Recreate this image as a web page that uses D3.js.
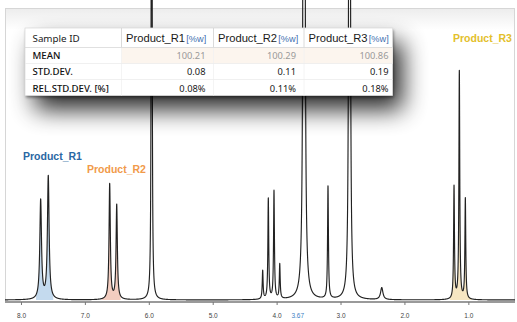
<!DOCTYPE html>
<html>
<head>
<meta charset="utf-8">
<script src="https://cdn.jsdelivr.net/npm/d3@7"></script>
<style>
  html, body { margin: 0; padding: 0; background: #fff; }
  svg { display: block; }
</style>
</head>
<body>
<svg id="chart" width="517" height="322"></svg>
<script>
// ---------------- DATA ----------------
// NMR peak list: chemical shift (ppm), intensity, half-width (ppm)
const peakPpm    = [7.692, 7.573, 6.612, 6.502, 5.955, 4.218, 4.130, 4.041, 3.951, 3.571, 3.196, 2.859, 2.355, 1.224, 1.141, 1.047];
const peakHeight = [33,    41,    38.5,  31.5,  600,   9.5,   33.5,  36,    11.5,  2000,  37.5,  1500,  4,     37.5,  76,    33.5];
const peakWidth  = [0.0157,0.0157,0.012, 0.012, 0.004, 0.008, 0.008, 0.008, 0.008, 0.0047,0.008, 0.0044,0.022, 0.008, 0.008, 0.008];

// integration regions (labelled products)
const regionNames = ["Product_R1", "Product_R2", "Product_R3"];
const regionFrom  = [7.765, 6.737, 1.286];
const regionTo    = [7.495, 6.440, 0.947];

// axis
const tickValues = [8, 7, 6, 5, 4, 3, 2, 1];
const tickLabels = ["8.0", "7.0", "6.0", "5.0", "4.0", "3.0", "2.0", "1.0"];
const cursorPpm = [3.67];
const cursorLabel = ["3.67"];

// results table
const tableHeader = ["Sample ID", "Product_R1", "Product_R2", "Product_R3"];
const unitLabel = "[%w]";
const rowLabels = ["MEAN", "STD.DEV.", "REL.STD.DEV. [%]"];
const meanValues = [100.21, 100.29, 100.86];
const stdValues  = [0.08, 0.11, 0.19];
const rsdValues  = [0.08, 0.11, 0.18];

// ---------------- STYLE ----------------
const regionFill  = { Product_R1: "#c4daee", Product_R2: "#f3cdc0", Product_R3: "#f6e6c2" };
const regionLabel = { Product_R1: "#2a67a3", Product_R2: "#f19a4a", Product_R3: "#e3c02c" };

const svg = d3.select("#chart");
const W = 517, H = 322;

const x = d3.scaleLinear().domain([8.25, 0.27]).range([5, 515]);
const y = d3.scaleLinear().domain([0, 100]).range([300, 0]);

function intensity(p) {
  let s = 0;
  for (let i = 0; i < peakPpm.length; i++) {
    const d = p - peakPpm[i], g = peakWidth[i];
    s += peakHeight[i] * g * g / (d * d + g * g);
  }
  return s;
}

// sample spectrum
const step = 0.0006;
const pts = [];
for (let p = 8.25; p >= 0.27; p -= step) pts.push({ p, v: intensity(p) });

const defs = svg.append("defs");
defs.append("clipPath").attr("id", "plotClip")
  .append("rect").attr("x", 5).attr("y", -2).attr("width", 510).attr("height", 303);

const shadow = defs.append("filter").attr("id", "shadow")
  .attr("x", "-30%").attr("y", "-60%").attr("width", "170%").attr("height", "300%");
shadow.append("feGaussianBlur").attr("in", "SourceAlpha").attr("stdDeviation", 12).attr("result", "b");
shadow.append("feOffset").attr("in", "b").attr("dx", 10).attr("dy", 14).attr("result", "o");
shadow.append("feComponentTransfer").attr("in", "o").attr("result", "o2")
  .append("feFuncA").attr("type", "linear").attr("slope", 0.85);
shadow.append("feGaussianBlur").attr("in", "SourceAlpha").attr("stdDeviation", 1.5).attr("result", "t");
shadow.append("feOffset").attr("in", "t").attr("dx", 1).attr("dy", 2).attr("result", "t2");
shadow.append("feComponentTransfer").attr("in", "t2").attr("result", "t3")
  .append("feFuncA").attr("type", "linear").attr("slope", 0.45);
const merge = shadow.append("feMerge");
merge.append("feMergeNode").attr("in", "o2");
merge.append("feMergeNode").attr("in", "t3");

const topGrad = defs.append("linearGradient").attr("id", "topGrad").attr("x1", 0).attr("y1", 0).attr("x2", 0).attr("y2", 1);
topGrad.append("stop").attr("offset", 0).attr("stop-color", "#ececec");
topGrad.append("stop").attr("offset", 1).attr("stop-color", "#ffffff");

// background / frame
svg.append("rect").attr("width", W).attr("height", H).attr("fill", "#fff");
svg.append("rect").attr("x", 5).attr("y", 8).attr("width", 510).attr("height", 22).attr("fill", "url(#topGrad)");
svg.append("rect").attr("x", 5.5).attr("y", 8.5).attr("width", 509).attr("height", 293)
  .attr("fill", "none").attr("stroke", "#d6d6d6").attr("stroke-width", 1);

const plot = svg.append("g").attr("clip-path", "url(#plotClip)");

// filled integration regions
regionNames.forEach((name, i) => {
  const sub = pts.filter(d => d.p <= regionFrom[i] && d.p >= regionTo[i]);
  plot.append("path").datum(sub)
    .attr("fill", regionFill[name])
    .attr("d", d3.area().x(d => x(d.p)).y0(y(0)).y1(d => y(d.v)));
});

// spectrum line
plot.append("path").datum(pts)
  .attr("fill", "none").attr("stroke", "#222").attr("stroke-width", 1.15)
  .attr("stroke-linejoin", "round")
  .attr("d", d3.line().x(d => x(d.p)).y(d => Math.max(y(d.v), -50)));

// axis
const axisG = svg.append("g").attr("transform", "translate(0,302)");
axisG.append("line").attr("x1", 5).attr("x2", 515).attr("stroke", "#9a9a9a").attr("stroke-width", 2);
const axis = d3.axisBottom(x).tickValues(tickValues).tickFormat((d, i) => tickLabels[i]).tickSize(3).tickPadding(8);
const ag = svg.append("g").attr("transform", "translate(0,302)").call(axis);
ag.select(".domain").remove();
ag.selectAll(".tick line").attr("stroke", "#777");
ag.selectAll(".tick text").attr("fill", "#444").attr("font-size", "6.5px").attr("font-family", "Liberation Sans, Arial, sans-serif");
svg.selectAll("text.cursor").data(cursorPpm).enter().append("text")
  .attr("class", "cursor")
  .attr("x", d => x(d)).attr("y", 317.6).attr("text-anchor", "middle")
  .attr("fill", "#3b7fc4").attr("font-size", "6.5px").attr("font-family", "Liberation Sans, Arial, sans-serif")
  .text((d, i) => cursorLabel[i]);

// product labels
const labelPos = { Product_R1: [23, 160], Product_R2: [87, 173], Product_R3: [453, 42] };
regionNames.forEach(name => {
  svg.append("text").attr("x", labelPos[name][0]).attr("y", labelPos[name][1])
    .attr("fill", regionLabel[name]).attr("font-weight", "bold")
    .attr("font-size", "10.5px").attr("font-family", "Liberation Sans, Arial, sans-serif")
    .text(name);
});

// ---------------- TABLE ----------------
const colX = [25, 121.5, 213.5, 304, 392.5];
const rowY = [28, 47.5, 63.5, 79.5, 95.5];
const valPad = [8, 8, 4];
const tbl = svg.append("g");
tbl.append("rect").attr("x", colX[0]).attr("y", rowY[0]).attr("width", colX[4] - colX[0]).attr("height", rowY[4] - rowY[0])
  .attr("fill", "#fff").attr("filter", "url(#shadow)");
tbl.append("rect").attr("x", colX[0]).attr("y", rowY[0]).attr("width", colX[4] - colX[0]).attr("height", rowY[4] - rowY[0])
  .attr("fill", "#fff").attr("stroke", "#dcdcdc").attr("stroke-width", 0.8);
// mean row tint
tbl.append("rect").attr("x", colX[1]).attr("y", rowY[1]).attr("width", colX[4] - colX[1]).attr("height", rowY[2] - rowY[1])
  .attr("fill", "#fcf5ee");
// separators
for (let c = 1; c < 4; c++) {
  tbl.append("line").attr("x1", colX[c]).attr("x2", colX[c]).attr("y1", rowY[0]).attr("y2", rowY[1])
    .attr("stroke", "#d0d0d0").attr("stroke-width", 0.8);
  tbl.append("line").attr("x1", colX[c]).attr("x2", colX[c]).attr("y1", rowY[1]).attr("y2", rowY[4])
    .attr("stroke", "#f1f1f1").attr("stroke-width", 0.8);
}
for (let r = 1; r < 4; r++) {
  tbl.append("line").attr("x1", colX[0]).attr("x2", colX[4]).attr("y1", rowY[r]).attr("y2", rowY[r])
    .attr("stroke", r === 1 ? "#d8d8d8" : "#ececec").attr("stroke-width", 0.8);
}
const tf = "Liberation Sans, Arial, sans-serif";
const nf = "Noto Sans, Open Sans, sans-serif";
tbl.append("text").attr("x", 32.5).attr("y", 41.8).attr("font-size", "9.8px").attr("font-family", nf)
  .attr("fill", "#1a1a1a").text(tableHeader[0]);
for (let c = 1; c < 4; c++) {
  const t = tbl.append("text").attr("x", colX[c] + 4.5).attr("y", 42).attr("font-size", "11.2px").attr("font-family", tf).attr("fill", "#1a1a1a");
  t.append("tspan").text(tableHeader[c]);
  t.append("tspan").attr("fill", "#3f6fb1").attr("font-size", "9.2px").attr("dx", 1.2).text(unitLabel);
}
const rowValues = [meanValues.map(v => v.toFixed(2)), stdValues.map(v => v.toFixed(2)), rsdValues.map(v => v.toFixed(2) + "%")];
const rowColor = ["#9a9a9a", "#1a1a1a", "#1a1a1a"];
const rowCenter = [56, 71.7, 88.3];
rowLabels.forEach((lab, r) => {
  const base = rowCenter[r] + 3.4;
  tbl.append("text").attr("x", 32.5).attr("y", base).attr("font-size", "9.6px").attr("font-family", nf)
    .attr("font-weight", 500).attr("fill", "#111").text(lab);
  rowValues[r].forEach((v, c) => {
    tbl.append("text").attr("x", colX[c + 2] - valPad[c]).attr("y", base).attr("text-anchor", "end")
      .attr("font-size", "9.3px").attr("font-family", nf).attr("fill", rowColor[r]).text(v);
  });
});
</script>
</body>
</html>
